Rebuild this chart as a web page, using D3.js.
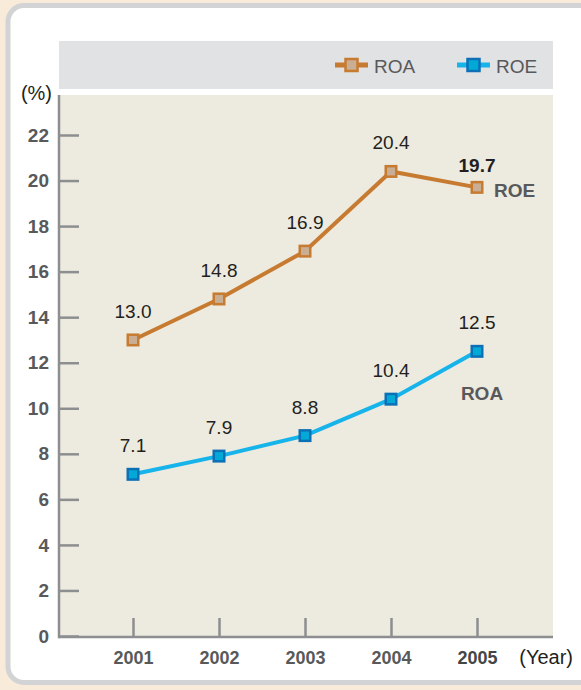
<!DOCTYPE html>
<html>
<head>
<meta charset="utf-8">
<script src="https://cdn.jsdelivr.net/npm/d3@7"></script>
<style>
html,body{margin:0;padding:0;background:#f8ebd9;}
svg{display:block;font-family:"Liberation Sans",Arial,sans-serif;}
</style>
</head>
<body>
<svg id="chart" width="581" height="690"></svg>
<script>
const years = ["2001","2002","2003","2004","2005"];
const roeValues = [13.0, 14.8, 16.9, 20.4, 19.7];   // orange series (labelled "ROE" in plot)
const roaValues = [7.1, 7.9, 8.8, 10.4, 12.5];      // blue series (labelled "ROA" in plot)
const yTicks = [0,2,4,6,8,10,12,14,16,18,20,22];
const legendNames = ["ROA","ROE"];
const seriesNames = ["ROE","ROA"];

(function(){
const svg = d3.select("#chart");
const W = 581, H = 690;

// background + panel
svg.append("rect").attr("width",W).attr("height",H).attr("fill","#f8ebd9");
svg.append("rect").attr("x",8).attr("y",5.5).attr("width",590).attr("height",677)
  .attr("rx",16).attr("fill","#fff").attr("stroke","#d2d3d4").attr("stroke-width",5);

const pL = 59, pR = 553, pT = 95, pB = 637;

// header band
svg.append("rect").attr("x",pL).attr("y",41).attr("width",pR-pL).attr("height",48).attr("fill","#e1e2e4");
// plot bg
svg.append("rect").attr("x",pL).attr("y",pT).attr("width",pR-pL).attr("height",pB-pT).attr("fill","#edeadf");

const x = d3.scalePoint().domain(years).range([133, 477]);
const y = d3.scaleLinear().domain([0,22]).range([636, 135]);

const axisColor = "#8d8e90";
const textColor = "#58595b";

// Y axis
const yAxis = d3.axisLeft(y).tickValues(yTicks).tickSizeInner(-20).tickSizeOuter(0).tickPadding(10).tickFormat(d3.format("d"));
const gy = svg.append("g").attr("transform",`translate(${pL},0)`).call(yAxis);
gy.select(".domain").remove();
gy.selectAll(".tick line").attr("stroke",axisColor).attr("stroke-width",2.5);
gy.selectAll(".tick text").attr("fill",textColor).attr("font-size",19).attr("font-weight","bold")
  .attr("font-family","'Liberation Sans',Arial,sans-serif");

// X axis
const xAxis = d3.axisBottom(x).tickSizeInner(-19).tickSizeOuter(0).tickPadding(14);
const gx = svg.append("g").attr("transform",`translate(0,${pB})`).call(xAxis);
gx.select(".domain").remove();
gx.selectAll(".tick line").attr("stroke",axisColor).attr("stroke-width",2.5);
gx.selectAll(".tick text").attr("fill",d => d==="2005" ? "#444547" : textColor).attr("font-size",18).attr("font-weight","bold")
  .attr("font-family","'Liberation Sans',Arial,sans-serif");

// axis lines
svg.append("line").attr("x1",pL).attr("x2",pL).attr("y1",pT).attr("y2",pB+1.2)
  .attr("stroke",axisColor).attr("stroke-width",2.5);
svg.append("line").attr("x1",pL).attr("x2",pR).attr("y1",pB).attr("y2",pB)
  .attr("stroke",axisColor).attr("stroke-width",2.5);

// unit labels
svg.append("text").attr("x",52).attr("y",100).attr("text-anchor","end").attr("font-size",20)
  .attr("fill","#231f20").text("(%)");
svg.append("text").attr("x",573).attr("y",664).attr("text-anchor","end").attr("font-size",20)
  .attr("fill","#231f20").text("(Year)");

const series = [
  {vals: roeValues, line:"#c77b31", fill:"#c9ae93", stroke:"#c77b31"},
  {vals: roaValues, line:"#16b4ea", fill:"#03a9d6", stroke:"#0b70b6"}
];

const lineGen = d3.line().x((d,i)=>x(years[i])).y(d=>y(d));
const ms = 10.5;
series.forEach((s,si)=>{
  svg.append("path").datum(s.vals).attr("d",lineGen).attr("fill","none")
    .attr("stroke",s.line).attr("stroke-width",4);
  svg.selectAll(null).data(s.vals).enter().append("rect")
    .attr("x",(d,i)=>x(years[i])-ms/2).attr("y",d=>y(d)-ms/2)
    .attr("width",ms).attr("height",ms)
    .attr("fill",s.fill).attr("stroke",s.stroke).attr("stroke-width",2.5);
  svg.selectAll(null).data(s.vals).enter().append("text")
    .attr("x",(d,i)=>x(years[i])).attr("y",(d,i)=>y(d)-((i===4 && si===0) ? 15 : 22))
    .attr("text-anchor","middle").attr("font-size",19)
    .attr("font-weight",(d,i)=> (i===4 && si===0) ? "bold" : "normal")
    .attr("fill","#231f20").text(d=>d3.format(".1f")(d));
});

// series name labels in plot
svg.append("text").attr("x",x("2005")+17).attr("y",y(roeValues[4])+10)
  .attr("font-size",19).attr("font-weight","bold").attr("fill",textColor).text(seriesNames[0]);
svg.append("text").attr("x",x("2005")+5).attr("y",y(roaValues[3])+1)
  .attr("text-anchor","middle").attr("font-size",19).attr("font-weight","bold").attr("fill",textColor).text(seriesNames[1]);

// legend
const legendItems = [
  {name: legendNames[0], x:335, line:"#c77b31", fill:"#c9ae93", stroke:"#c77b31"},
  {name: legendNames[1], x:457, line:"#16b4ea", fill:"#03a9d6", stroke:"#0b70b6"}
];
legendItems.forEach(l=>{
  const g = svg.append("g").attr("transform",`translate(${l.x},65)`);
  g.append("line").attr("x1",0).attr("x2",33).attr("y1",0).attr("y2",0).attr("stroke",l.line).attr("stroke-width",5);
  g.append("rect").attr("x",16.5-6).attr("y",-6).attr("width",12).attr("height",12)
    .attr("fill",l.fill).attr("stroke",l.stroke).attr("stroke-width",2.5);
  g.append("text").attr("x",39).attr("y",7.5).attr("font-size",19).attr("fill",textColor).text(l.name);
});
})();
</script>
</body>
</html>
